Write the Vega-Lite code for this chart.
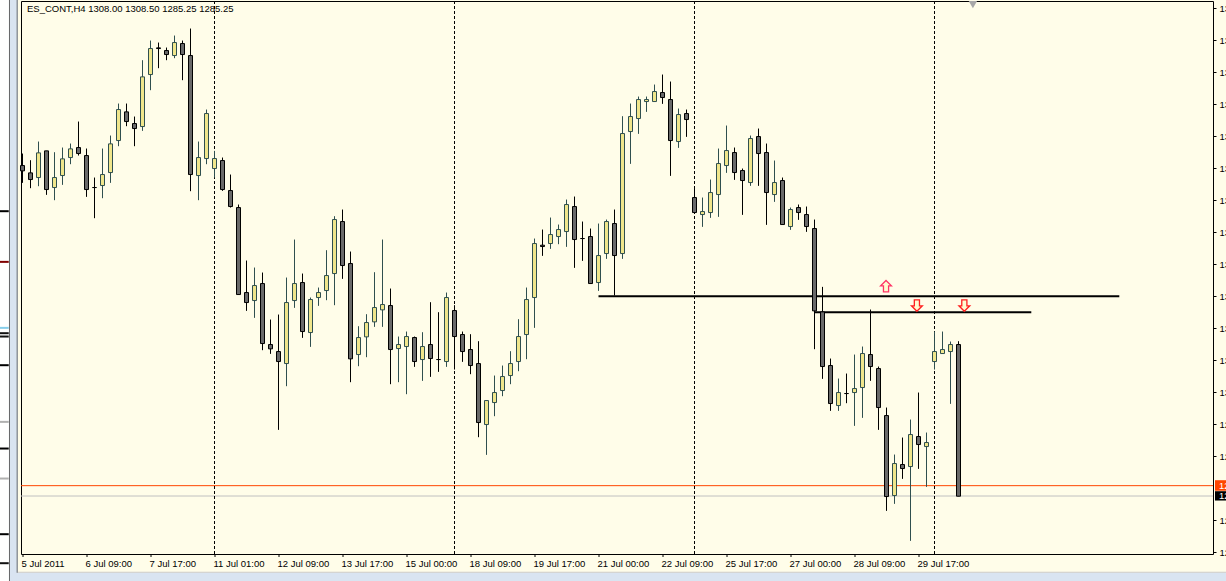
{
"$schema":"https://vega.github.io/schema/vega-lite/v6.json",
"autosize":{"type":"none"},
"width":1192,"height":553,
"padding":{"left":21,"top":1,"right":13,"bottom":27},
"background":"#fffde9",
"view":{"stroke":"#000","strokeWidth":1,"fill":"#fffde9"},
"config":{"font":"Liberation Sans","text":{"font":"Liberation Sans"}},
"resolve":{"scale":{"color":"independent","stroke":"independent","strokeWidth":"independent"}},
"datasets":{
"candles":[
{"b":0,"o":1334.85,"h":1336.65,"l":1332.25,"c":1334.05},
{"b":1,"o":1333.75,"h":1335.65,"l":1331.45,"c":1332.75},
{"b":2,"o":1333.05,"h":1338.45,"l":1331.75,"c":1336.75},
{"b":3,"o":1337.05,"h":1337.05,"l":1330.45,"c":1331.25},
{"b":4,"o":1331.55,"h":1336.85,"l":1329.65,"c":1333.05},
{"b":5,"o":1333.35,"h":1337.55,"l":1331.95,"c":1335.85},
{"b":6,"o":1336.05,"h":1338.15,"l":1335.05,"c":1337.35},
{"b":7,"o":1337.55,"h":1341.45,"l":1336.35,"c":1336.65},
{"b":8,"o":1336.35,"h":1337.4,"l":1330.15,"c":1331.25},
{"b":9,"o":1331.55,"h":1333.05,"l":1326.95,"c":1331.55},
{"b":10,"o":1331.85,"h":1337.4,"l":1329.95,"c":1333.5},
{"b":11,"o":1333.8,"h":1339.35,"l":1332.25,"c":1338.1},
{"b":12,"o":1338.6,"h":1344.15,"l":1337.75,"c":1343.25},
{"b":13,"o":1342.9,"h":1344.15,"l":1340.75,"c":1341.45},
{"b":14,"o":1341.15,"h":1342.2,"l":1337.75,"c":1340.4},
{"b":15,"o":1340.7,"h":1350.65,"l":1340.05,"c":1348.15},
{"b":16,"o":1348.5,"h":1353.6,"l":1346.15,"c":1352.4},
{"b":17,"o":1352.5,"h":1353.3,"l":1349.45,"c":1352.4},
{"b":18,"o":1352.1,"h":1352.55,"l":1350.65,"c":1351.5},
{"b":19,"o":1351.35,"h":1354.35,"l":1350.95,"c":1353.3},
{"b":20,"o":1353.15,"h":1353.6,"l":1347.65,"c":1351.5},
{"b":21,"o":1351.35,"h":1355.4,"l":1331.0,"c":1333.5},
{"b":22,"o":1333.35,"h":1338.45,"l":1329.65,"c":1336.05},
{"b":23,"o":1335.9,"h":1343.25,"l":1335.05,"c":1342.65},
{"b":24,"o":1334.4,"h":1337.05,"l":1333.05,"c":1335.9},
{"b":25,"o":1335.6,"h":1336.05,"l":1331.05,"c":1331.25},
{"b":26,"o":1331.1,"h":1333.5,"l":1328.55,"c":1328.7},
{"b":27,"o":1328.55,"h":1329.0,"l":1315.5,"c":1315.5},
{"b":28,"o":1315.8,"h":1320.6,"l":1313.05,"c":1314.3},
{"b":29,"o":1314.6,"h":1319.55,"l":1312.0,"c":1316.85},
{"b":30,"o":1317.15,"h":1318.8,"l":1307.15,"c":1308.15},
{"b":31,"o":1308.0,"h":1311.75,"l":1306.6,"c":1307.35},
{"b":32,"o":1306.95,"h":1312.5,"l":1295.2,"c":1305.45},
{"b":33,"o":1305.15,"h":1318.05,"l":1301.75,"c":1314.3},
{"b":34,"o":1314.6,"h":1323.75,"l":1313.5,"c":1317.15},
{"b":35,"o":1317.3,"h":1318.65,"l":1309.0,"c":1309.95},
{"b":36,"o":1309.8,"h":1315.05,"l":1307.65,"c":1314.75},
{"b":37,"o":1315.05,"h":1316.55,"l":1313.8,"c":1315.8},
{"b":38,"o":1316.1,"h":1322.15,"l":1314.65,"c":1318.35},
{"b":39,"o":1318.65,"h":1327.25,"l":1313.9,"c":1326.75},
{"b":40,"o":1326.45,"h":1328.25,"l":1317.85,"c":1319.85},
{"b":41,"o":1320.15,"h":1321.95,"l":1302.35,"c":1305.85},
{"b":42,"o":1306.5,"h":1310.75,"l":1304.75,"c":1309.05},
{"b":43,"o":1309.15,"h":1312.55,"l":1306.1,"c":1311.3},
{"b":44,"o":1311.4,"h":1318.85,"l":1310.65,"c":1313.55},
{"b":45,"o":1313.2,"h":1323.75,"l":1310.65,"c":1314.0},
{"b":46,"o":1313.85,"h":1316.4,"l":1302.05,"c":1307.25},
{"b":47,"o":1307.4,"h":1309.2,"l":1302.35,"c":1308.0},
{"b":48,"o":1307.7,"h":1309.95,"l":1300.55,"c":1309.2},
{"b":49,"o":1309.05,"h":1309.2,"l":1304.65,"c":1305.45},
{"b":50,"o":1305.75,"h":1309.85,"l":1302.55,"c":1307.7},
{"b":51,"o":1308.0,"h":1314.35,"l":1303.15,"c":1305.9},
{"b":52,"o":1305.75,"h":1312.85,"l":1303.9,"c":1305.75},
{"b":53,"o":1305.45,"h":1315.8,"l":1304.65,"c":1315.05},
{"b":54,"o":1313.1,"h":1313.9,"l":1304.25,"c":1309.2},
{"b":55,"o":1309.5,"h":1309.95,"l":1305.4,"c":1306.95},
{"b":56,"o":1307.25,"h":1309.55,"l":1303.55,"c":1304.85},
{"b":57,"o":1305.15,"h":1308.5,"l":1294.1,"c":1296.3},
{"b":58,"o":1296.0,"h":1299.6,"l":1291.45,"c":1299.6},
{"b":59,"o":1299.3,"h":1303.35,"l":1297.25,"c":1300.8},
{"b":60,"o":1301.1,"h":1304.85,"l":1300.25,"c":1303.2},
{"b":61,"o":1303.35,"h":1307.0,"l":1302.05,"c":1305.15},
{"b":62,"o":1305.45,"h":1311.8,"l":1304.0,"c":1309.2},
{"b":63,"o":1309.5,"h":1316.55,"l":1305.8,"c":1314.75},
{"b":64,"o":1315.05,"h":1323.9,"l":1310.5,"c":1323.15},
{"b":65,"o":1322.9,"h":1325.25,"l":1321.3,"c":1322.7},
{"b":66,"o":1323.15,"h":1327.05,"l":1322.35,"c":1324.5},
{"b":67,"o":1324.2,"h":1326.0,"l":1323.05,"c":1325.25},
{"b":68,"o":1324.95,"h":1329.75,"l":1322.65,"c":1329.0},
{"b":69,"o":1328.7,"h":1330.2,"l":1319.5,"c":1323.75},
{"b":70,"o":1323.9,"h":1326.45,"l":1320.55,"c":1323.9},
{"b":71,"o":1324.2,"h":1325.4,"l":1317.15,"c":1317.15},
{"b":72,"o":1317.3,"h":1326.15,"l":1316.05,"c":1321.35},
{"b":73,"o":1321.65,"h":1326.75,"l":1320.85,"c":1326.45},
{"b":74,"o":1326.15,"h":1328.25,"l":1315.35,"c":1321.35},
{"b":75,"o":1321.65,"h":1342.25,"l":1320.85,"c":1339.65},
{"b":76,"o":1339.95,"h":1344.15,"l":1335.1,"c":1342.2},
{"b":77,"o":1341.9,"h":1345.2,"l":1339.6,"c":1344.75},
{"b":78,"o":1344.45,"h":1345.2,"l":1342.9,"c":1344.75},
{"b":79,"o":1344.45,"h":1347.0,"l":1344.45,"c":1345.95},
{"b":80,"o":1345.8,"h":1348.5,"l":1344.1,"c":1345.05},
{"b":81,"o":1344.75,"h":1347.45,"l":1333.3,"c":1338.6},
{"b":82,"o":1338.45,"h":1343.4,"l":1337.5,"c":1342.5},
{"b":83,"o":1342.65,"h":1343.25,"l":1339.15,"c":1341.75},
{"b":84,"o":1330.05,"h":1331.55,"l":1327.75,"c":1327.8},
{"b":85,"o":1327.5,"h":1330.05,"l":1325.65,"c":1327.95},
{"b":86,"o":1327.8,"h":1332.75,"l":1327.0,"c":1330.8},
{"b":87,"o":1330.5,"h":1337.4,"l":1327.15,"c":1335.15},
{"b":88,"o":1334.85,"h":1340.85,"l":1333.75,"c":1337.1},
{"b":89,"o":1336.8,"h":1337.55,"l":1332.7,"c":1333.8},
{"b":90,"o":1334.1,"h":1334.4,"l":1327.45,"c":1332.6},
{"b":91,"o":1332.3,"h":1339.35,"l":1331.8,"c":1338.9},
{"b":92,"o":1339.2,"h":1340.4,"l":1331.8,"c":1336.65},
{"b":93,"o":1336.8,"h":1338.15,"l":1325.95,"c":1330.8},
{"b":94,"o":1330.5,"h":1335.6,"l":1329.4,"c":1332.3},
{"b":95,"o":1332.6,"h":1333.05,"l":1326.0,"c":1326.0},
{"b":96,"o":1325.7,"h":1328.55,"l":1325.2,"c":1328.25},
{"b":97,"o":1328.55,"h":1329.0,"l":1326.7,"c":1327.8},
{"b":98,"o":1327.5,"h":1328.7,"l":1324.9,"c":1325.7},
{"b":99,"o":1325.4,"h":1326.75,"l":1307.3,"c":1313.05},
{"b":100,"o":1312.9,"h":1316.65,"l":1302.85,"c":1304.7},
{"b":101,"o":1304.85,"h":1305.9,"l":1298.05,"c":1299.15},
{"b":102,"o":1298.85,"h":1302.9,"l":1298.05,"c":1300.8},
{"b":103,"o":1300.65,"h":1303.65,"l":1299.2,"c":1300.65},
{"b":104,"o":1300.8,"h":1306.5,"l":1295.8,"c":1301.4},
{"b":105,"o":1301.55,"h":1307.7,"l":1297.0,"c":1306.65},
{"b":106,"o":1306.5,"h":1313.25,"l":1302.55,"c":1304.7},
{"b":107,"o":1304.4,"h":1304.7,"l":1295.2,"c":1298.55},
{"b":108,"o":1297.35,"h":1298.55,"l":1283.05,"c":1285.2},
{"b":109,"o":1285.35,"h":1291.5,"l":1284.1,"c":1290.15},
{"b":110,"o":1290.0,"h":1294.05,"l":1287.85,"c":1289.4},
{"b":111,"o":1289.7,"h":1296.75,"l":1278.55,"c":1294.5},
{"b":112,"o":1294.2,"h":1300.8,"l":1289.35,"c":1293.0},
{"b":113,"o":1292.7,"h":1294.8,"l":1286.65,"c":1293.3},
{"b":114,"o":1305.45,"h":1309.95,"l":1304.25,"c":1306.95},
{"b":115,"o":1306.65,"h":1309.95,"l":1306.65,"c":1307.25},
{"b":116,"o":1306.95,"h":1308.45,"l":1299.1,"c":1308.0},
{"b":117,"o":1308.0,"h":1308.5,"l":1285.25,"c":1285.25}
],
"sessions":[{"b":24},{"b":54},{"b":84},{"b":114}],
"levels":[{"kind":"bid","p":1286.83},{"kind":"ask","p":1285.28}],
"trend":[{"b1":72,"b2":137.1,"p":1315.25},{"b1":99,"b2":126.1,"p":1312.85}],
"arrows":[{"b":107.94,"p":1316.75,"dir":"up"},{"b":111.8,"p":1313.85,"dir":"down"},{"b":117.73,"p":1313.85,"dir":"down"}],
"tags":[{"kind":"bid","b1":149.06,"b2":151,"p1":1287.65,"p2":1286.07,"p":1286.8,"t":"1286.75"},{"kind":"ask","b1":149.06,"b2":151,"p1":1286.0,"p2":1284.6,"p":1285.25,"t":"1285.25"}],
"chrome":[
{"kind":"white","b1":-2.82,"b2":-1.69,"p1":1360,"p2":1272},
{"kind":"blue","b1":-1.69,"b2":-0.69,"p1":1360,"p2":1272},
{"kind":"blue","b1":-0.69,"b2":151,"p1":1273.75,"p2":1272},
{"kind":"edge","b1":-0.69,"b2":151,"p1":1273.9,"p2":1273.75},
{"kind":"dark","b1":-1.69,"b2":-1.58,"p1":1360,"p2":1272},
{"kind":"grey","b1":-0.75,"b2":-0.57,"p1":1360,"p2":1273.75}
],
"strip":[
{"b1":-2.82,"b2":-1.72,"p":1328.0,"kind":"black"},
{"b1":-2.82,"b2":-1.72,"p":1320.4,"kind":"maroon"},
{"b1":-2.82,"b2":-1.72,"p":1310.5,"kind":"cyan"},
{"b1":-2.82,"b2":-1.72,"p":1309.7,"kind":"thin"},
{"b1":-2.82,"b2":-1.72,"p":1309.2,"kind":"thin"},
{"b1":-2.82,"b2":-1.72,"p":1304.9,"kind":"black"},
{"b1":-2.82,"b2":-1.72,"p":1296.4,"kind":"dash"},
{"b1":-2.82,"b2":-1.72,"p":1292.4,"kind":"black"},
{"b1":-2.82,"b2":-1.72,"p":1287.9,"kind":"dash"},
{"b1":-2.82,"b2":-1.72,"p":1279.55,"kind":"black"},
{"b1":-2.82,"b2":-1.72,"p":1275.2,"kind":"thin"}
],
"title":[{"b":0.56,"p":1358.3,"t":"ES_CONT,H4  1308.00 1308.50 1285.25 1285.25"}],
"marker":[{"b":118.8,"p":1359.0}]
},
"encoding":{
"x":{"type":"quantitative","title":null,"scale":{"domain":[-0.1875,148.8125],"nice":false,"zero":false,"padding":0},
"axis":{"orient":"bottom","translate":0,"values":[0,8,16,24,32,40,48,56,64,72,80,88,96,104,112],"domain":false,"grid":false,"tickSize":3,"tickColor":"#000","labelColor":"#000","labelFont":"Liberation Sans","labelFontSize":9.5,"labelAlign":"left","labelBaseline":"top","labelPadding":2,"labelOffset":-1,"labelOverlap":false,"labelFlush":false,
"labelExpr":"['5 Jul 2011','6 Jul 09:00','7 Jul 17:00','11 Jul 01:00','12 Jul 09:00','13 Jul 17:00','15 Jul 00:00','18 Jul 09:00','19 Jul 17:00','21 Jul 00:00','22 Jul 09:00','25 Jul 17:00','27 Jul 00:00','28 Jul 09:00','29 Jul 17:00'][datum.value/8]"}},
"y":{"type":"quantitative","title":null,"scale":{"domain":[1276.58,1359.53],"nice":false,"zero":false},
"axis":{"orient":"right","values":[1358.48,1353.68,1348.88,1344.08,1339.28,1334.48,1329.68,1324.88,1320.08,1315.28,1310.48,1305.68,1300.88,1296.08,1291.28,1281.68,1276.88],"format":".2f","domain":false,"grid":false,"tickSize":3,"tickColor":"#000","labelColor":"#000","labelFont":"Liberation Sans","labelFontSize":9.5,"labelPadding":3,"labelOverlap":false,"labelFlush":false}}
},
"layer":[
{"data":{"name":"chrome"},"mark":{"type":"rect","clip":false},"encoding":{"x":{"field":"b1","type":"quantitative"},"x2":{"field":"b2"},"y":{"field":"p1","type":"quantitative"},"y2":{"field":"p2"},
"color":{"field":"kind","type":"nominal","legend":null,"scale":{"domain":["white","blue","edge","dark","grey"],"range":["#ffffff","#d9e4f1","#c9c9c9","#555555","#8a8f96"]}}}},
{"data":{"name":"strip"},"mark":{"type":"rule","clip":false},"encoding":{"x":{"field":"b1","type":"quantitative"},"x2":{"field":"b2"},"y":{"field":"p","type":"quantitative"},
"stroke":{"field":"kind","type":"nominal","legend":null,"scale":{"domain":["black","maroon","cyan","thin","dash"],"range":["#000000","#800000","#87ceeb","#111111","#b0b0b0"]}},
"strokeWidth":{"field":"kind","type":"nominal","legend":null,"scale":{"domain":["black","maroon","cyan","thin","dash"],"range":[2,2,2,1,1]}}}},
{"data":{"name":"levels"},"mark":{"type":"rule"},"encoding":{"x":{"datum":-0.1875},"x2":{"datum":148.8125},"y":{"field":"p","type":"quantitative"},
"stroke":{"field":"kind","type":"nominal","legend":null,"scale":{"domain":["bid","ask"],"range":["#ff4500","#c0c0c0"]}}}},
{"data":{"name":"sessions"},"mark":{"type":"rule","stroke":"#000","strokeWidth":1,"strokeDash":[3,2]},"encoding":{"x":{"field":"b","type":"quantitative"},"y":{"datum":1359.53},"y2":{"datum":1276.58}}},
{"data":{"name":"trend"},"mark":{"type":"rule","stroke":"#000","strokeWidth":2},"encoding":{"x":{"field":"b1","type":"quantitative"},"x2":{"field":"b2"},"y":{"field":"p","type":"quantitative"}}},
{"data":{"name":"candles"},"mark":{"type":"rule","strokeWidth":1},"encoding":{"x":{"field":"b","type":"quantitative"},"y":{"field":"h","type":"quantitative"},"y2":{"field":"l"},
"stroke":{"condition":{"test":"datum.c>datum.o","value":"#2f4f4f"},"value":"#000000"}}},
{"data":{"name":"candles"},"mark":{"type":"bar","size":4,"strokeWidth":1},"encoding":{"x":{"field":"b","type":"quantitative"},"y":{"field":"o","type":"quantitative"},"y2":{"field":"c"},
"fill":{"condition":{"test":"datum.c>datum.o","value":"#f0e68c"},"value":"#696969"},
"stroke":{"condition":{"test":"datum.c>datum.o","value":"#2f4f4f"},"value":"#000000"}}},
{"data":{"name":"arrows"},"mark":{"type":"point","filled":true,"size":130,"strokeWidth":1.3,"fill":"#fffbd0","opacity":1},"encoding":{"x":{"field":"b","type":"quantitative"},"y":{"field":"p","type":"quantitative"},
"shape":{"field":"dir","type":"nominal","legend":null,"scale":{"domain":["up","down"],"range":["M0,-1 L0.95,-0.05 L0.45,-0.05 L0.45,1 L-0.45,1 L-0.45,-0.05 L-0.95,-0.05 Z","M0,1 L0.95,0.05 L0.45,0.05 L0.45,-1 L-0.45,-1 L-0.45,0.05 L-0.95,0.05 Z"]}},
"stroke":{"field":"dir","type":"nominal","legend":null,"scale":{"domain":["up","down"],"range":["#ff3366","#ff2020"]}}}},
{"data":{"name":"marker"},"mark":{"type":"point","shape":"triangle-down","filled":true,"size":70,"color":"#a8a8a8","opacity":1},"encoding":{"x":{"field":"b","type":"quantitative"},"y":{"field":"p","type":"quantitative"}}},
{"data":{"name":"title"},"mark":{"type":"text","align":"left","baseline":"middle","font":"Liberation Sans","fontSize":9.5,"color":"#000"},"encoding":{"x":{"field":"b","type":"quantitative"},"y":{"field":"p","type":"quantitative"},"text":{"field":"t"}}},
{"data":{"name":"tags"},"mark":{"type":"rect","clip":false},"encoding":{"x":{"field":"b1","type":"quantitative"},"x2":{"field":"b2"},"y":{"field":"p1","type":"quantitative"},"y2":{"field":"p2"},
"color":{"field":"kind","type":"nominal","legend":null,"scale":{"domain":["bid","ask"],"range":["#ff4500","#000000"]}}}},
{"data":{"name":"tags"},"mark":{"type":"text","align":"left","baseline":"middle","fontSize":9.5,"font":"Liberation Sans","color":"#fff","clip":false},"encoding":{"x":{"datum":149.56},"y":{"field":"p","type":"quantitative"},"text":{"field":"t"}}}
]
}
